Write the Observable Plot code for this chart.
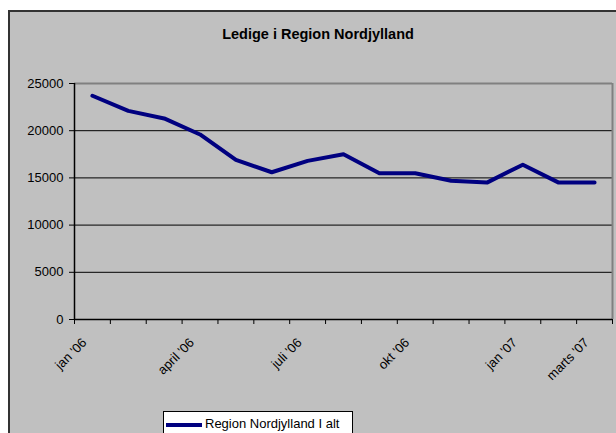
<!DOCTYPE html>
<html><head><meta charset="utf-8">
<script src="https://cdn.jsdelivr.net/npm/d3@7"></script>
<script src="https://cdn.jsdelivr.net/npm/@observablehq/plot@0.6"></script>
<style>
body{margin:0;background:#fff;font-family:"Liberation Sans",Arial,sans-serif;}
#wrap{position:relative;width:616px;height:433px;overflow:hidden;background:#fff;}
#frame{position:absolute;left:8px;top:10px;width:640px;height:460px;background:#c0c0c0;border-left:2px solid #333;border-top:2px solid #333;}
#title{position:absolute;left:0;width:636px;top:26px;text-align:center;font-weight:bold;font-size:14.5px;color:#000;}
#chart{position:absolute;left:0;top:0;}
#legend{position:absolute;left:163px;top:411px;width:188px;height:40px;background:#fff;border:1px solid #000;}
#legend .sw{position:absolute;left:2px;top:11px;width:36px;height:4px;background:#000080;}
#legend .lb{position:absolute;left:41px;top:4px;font-size:13px;color:#000;white-space:nowrap;}
</style>
</head><body>
<div id="wrap">
  <div id="frame"></div>
  <div id="title">Ledige i Region Nordjylland</div>
  <div id="chart"></div>
  <div id="legend"><div class="sw"></div><div class="lb">Region Nordjylland I alt</div></div>
</div>
<script>
const months = ["jan '06","feb '06","marts '06","april '06","maj '06","juni '06","juli '06","aug '06","sep '06","okt '06","nov '06","dec '06","jan '07","feb '07","marts '07"];
const values = [23700,22100,21300,19600,16900,15600,16800,17500,15500,15500,14700,14500,16400,14500,14500];
const shownLabels = ["jan '06","april '06","juli '06","okt '06","jan '07","marts '07"];
const yTicks = [0,5000,10000,15000,20000,25000];
const seriesName = "Region Nordjylland I alt";

const data = months.map((m,i)=>({month:m, idx:i+0.5, value:values[i]}));
const labelData = data.filter(d=>shownLabels.includes(d.month));

const chart = Plot.plot({
  width:616, height:433,
  marginLeft:74, marginRight:4, marginTop:83, marginBottom:114,
  style:{background:"transparent", fontFamily:"'Liberation Sans', Arial, sans-serif", fontSize:"13px", color:"#000"},
  x:{type:"linear", domain:[0, months.length], axis:null},
  y:{domain:[0,25000], axis:null},
  marks:[
    Plot.ruleY(yTicks.filter(t=>t>0 && t<25000), {stroke:"#000", strokeWidth:1}),
    Plot.ruleY([25000], {stroke:"#808080", strokeWidth:2}),
    Plot.ruleX([months.length], {stroke:"#808080", strokeWidth:2}),
    Plot.axisY({ticks:yTicks, tickSize:5, tickPadding:6, tickFormat:d3.format("d"), fontSize:13, stroke:"#000", label:null}),
    Plot.axisX({ticks:d3.range(0, months.length+1), tickSize:5, tickFormat:()=>"", stroke:"#000", label:null}),
    Plot.ruleX([0], {stroke:"#000", strokeWidth:1.5}),
    Plot.ruleY([0], {stroke:"#000", strokeWidth:1.5}),
    Plot.line(data, {x:"idx", y:"value", stroke:"#000080", strokeWidth:4}),
    Plot.text(labelData, {x:"idx", y:()=>0, text:"month", rotate:-45, textAnchor:"end", dx:-8, dy:21, fontSize:13, fill:"#000"})
  ]
});
document.getElementById("chart").appendChild(chart);
</script>
</body></html>
